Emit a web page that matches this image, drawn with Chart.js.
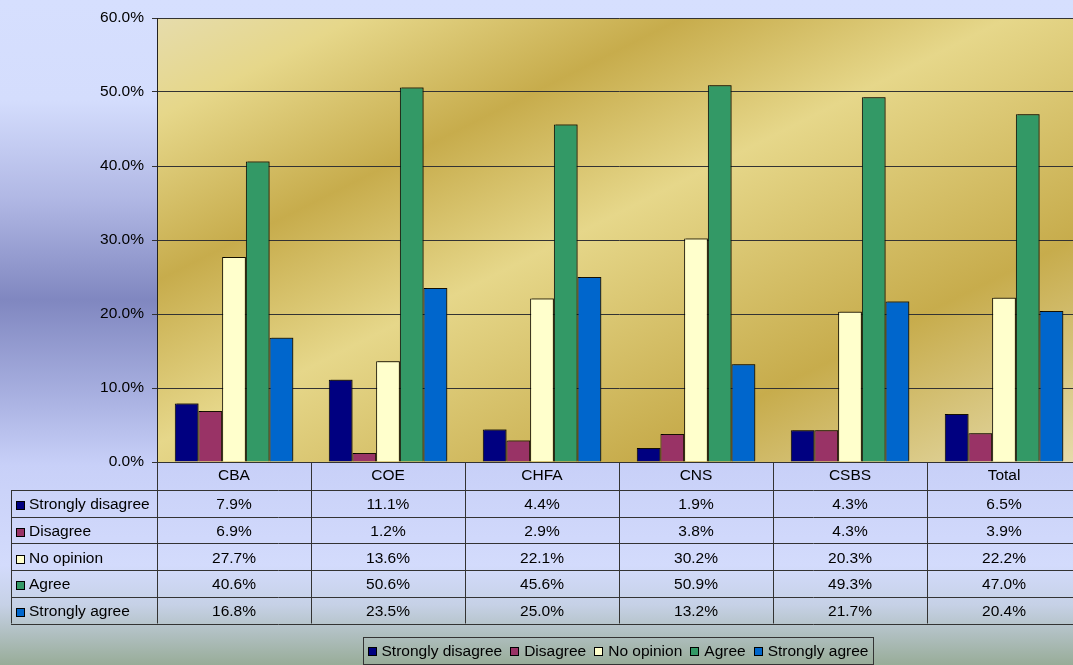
<!DOCTYPE html>
<html>
<head>
<meta charset="utf-8">
<script src="https://cdn.jsdelivr.net/npm/chart.js@4/dist/chart.umd.min.js"></script>
<style>
  html, body { margin: 0; padding: 0; width: 1073px; height: 665px; overflow: hidden; }
  body {
    background: linear-gradient(to bottom,
      #d6dffe 0px, #d4ddfd 100px, #b0b7e4 200px, #8087c0 300px,
      #aab2e2 400px, #c8d0f8 465px, #d3dbfc 565px, #c6d1e6 605px, #98ac98 665px);
  }
  #wrap { width: 1081px; height: 665px; }
  canvas { display: block; }
</style>
</head>
<body>
<div id="wrap"><canvas id="chart" width="1081" height="665"></canvas></div>
<script>
// Survey responses by college (percent of respondents)
const categories = ['CBA', 'COE', 'CHFA', 'CNS', 'CSBS', 'Total'];
const seriesNames = ['Strongly disagree', 'Disagree', 'No opinion', 'Agree', 'Strongly agree'];
const seriesColors = ['#000080', '#993366', '#ffffcc', '#339966', '#0066cc'];

const stronglyDisagree = [7.9, 11.1, 4.4, 1.9, 4.3, 6.5];
const disagree         = [6.9, 1.2, 2.9, 3.8, 4.3, 3.9];
const noOpinion        = [27.7, 13.6, 22.1, 30.2, 20.3, 22.2];
const agree            = [40.6, 50.6, 45.6, 50.9, 49.3, 47.0];
const stronglyAgree    = [16.8, 23.5, 25.0, 13.2, 21.7, 20.4];

const seriesValues = [stronglyDisagree, disagree, noOpinion, agree, stronglyAgree];

const yMin = 0, yMax = 60, yStep = 10;

const FONT = '"Liberation Sans", Arial, sans-serif';
const TEXT_SIZE = 15.5;
const fmt = v => v.toFixed(1) + '%';

// Gold fill behind the bars; bands run along x + 2y = const
const plotFill = {
  id: 'plotFill',
  beforeDraw(chart) {
    const { ctx, chartArea: a } = chart;
    const len = (a.right - a.left) + 2 * (a.bottom - a.top);
    const s = len / 5;
    const g = ctx.createLinearGradient(a.left, a.top, a.left + s, a.top + 2 * s);
    g.addColorStop(0.00, '#e6dcac');
    g.addColorStop(0.11, '#e6d78a');
    g.addColorStop(0.29, '#c7ac4c');
    g.addColorStop(0.47, '#e6d78a');
    g.addColorStop(0.75, '#c7ac4c');
    g.addColorStop(1.00, '#e6dcac');
    ctx.save();
    ctx.fillStyle = g;
    ctx.fillRect(a.left, a.top, a.right - a.left, a.bottom - a.top);
    ctx.restore();
  }
};

// Thin drop shadow on the right side of each bar
const barShadow = {
  id: 'barShadow',
  beforeDatasetsDraw(chart) {
    const ctx = chart.ctx;
    ctx.save();
    ctx.shadowColor = 'rgba(40, 30, 0, 0.55)';
    ctx.shadowOffsetX = 2;
    ctx.shadowOffsetY = -1;
    ctx.shadowBlur = 0;
  },
  afterDatasetsDraw(chart) {
    chart.ctx.restore();
  }
};

// Data table under the plot plus the boxed legend at the bottom
const dataTable = {
  id: 'dataTable',
  afterDraw(chart) {
    const { ctx, chartArea: a } = chart;
    const x = chart.scales.x;
    const n = chart.data.labels.length;
    const colW = x.getPixelForValue(1) - x.getPixelForValue(0);
    const left0 = x.getPixelForValue(0) - colW / 2;
    const headTop = a.bottom;
    const rowTop = 490;
    const rowH = 26.7;
    const tableLeft = 11;
    const tableRight = left0 + colW * n;
    const rows = chart.data.datasets.length;
    const tableBottom = rowTop + rowH * rows;
    const px = v => Math.round(v) + 0.5;
    const textDy = 1.5;

    ctx.save();
    ctx.strokeStyle = '#333333';
    ctx.lineWidth = 1;
    ctx.beginPath();
    // column separators through header and body
    for (let i = 0; i <= n; i++) {
      const cx = px(left0 + colW * i);
      ctx.moveTo(cx, headTop);
      ctx.lineTo(cx, tableBottom);
    }
    // left edge of the row-label column
    ctx.moveTo(px(tableLeft), rowTop);
    ctx.lineTo(px(tableLeft), tableBottom);
    // row separators
    for (let r = 0; r <= rows; r++) {
      const ry = px(rowTop + rowH * r);
      ctx.moveTo(tableLeft, ry);
      ctx.lineTo(tableRight, ry);
    }
    ctx.stroke();

    ctx.font = TEXT_SIZE + 'px ' + FONT;
    ctx.fillStyle = '#000';
    ctx.textBaseline = 'middle';
    ctx.textAlign = 'center';
    chart.data.labels.forEach((lab, i) => {
      ctx.fillText(lab, x.getPixelForValue(i), (headTop + rowTop) / 2);
    });

    chart.data.datasets.forEach((ds, r) => {
      const cy = rowTop + rowH * r + rowH / 2;
      const ky = Math.round(cy) - 2;
      // key square
      ctx.fillStyle = ds.backgroundColor;
      ctx.fillRect(16, ky, 9, 9);
      ctx.strokeStyle = '#000';
      ctx.strokeRect(16.5, ky + 0.5, 8, 8);
      ctx.fillStyle = '#000';
      ctx.textAlign = 'left';
      ctx.fillText(ds.label, 29, cy + textDy);
      ctx.textAlign = 'center';
      ds.data.forEach((v, i) => {
        ctx.fillText(fmt(v), x.getPixelForValue(i), cy + textDy);
      });
    });

    // legend box
    const boxL = 363, boxR = 873, boxT = 637, boxB = 664;
    ctx.strokeStyle = '#333333';
    ctx.strokeRect(boxL + 0.5, boxT + 0.5, boxR - boxL, boxB - boxT);
    const keyW = 9, keyGap = 5, itemGap = 8;
    const widths = chart.data.datasets.map(d => ctx.measureText(d.label).width);
    const total = widths.reduce((s, w) => s + keyW + keyGap + w, 0) + itemGap * (widths.length - 1);
    let lx = (boxL + boxR) / 2 - total / 2;
    const ly = 651;
    ctx.textAlign = 'left';
    chart.data.datasets.forEach((ds, i) => {
      const kx = Math.round(lx);
      ctx.fillStyle = ds.backgroundColor;
      ctx.fillRect(kx, ly - 4, 9, 9);
      ctx.strokeStyle = '#000';
      ctx.strokeRect(kx + 0.5, ly - 3.5, 8, 8);
      ctx.fillStyle = '#000';
      ctx.fillText(ds.label, lx + keyW + keyGap, ly + 1);
      lx += keyW + keyGap + widths[i] + itemGap;
    });
    ctx.restore();
  }
};

new Chart(document.getElementById('chart'), {
  type: 'bar',
  data: {
    labels: categories,
    datasets: seriesNames.map((name, i) => ({
      label: name,
      data: seriesValues[i],
      backgroundColor: seriesColors[i],
      borderColor: '#000000',
      borderWidth: 1,
      borderSkipped: 'bottom',
      categoryPercentage: 5 / 6.5,
      barPercentage: 1
    }))
  },
  options: {
    responsive: false,
    animation: false,
    devicePixelRatio: 1,
    layout: { padding: { top: 18, right: 0, bottom: 203, left: 0 } },
    plugins: {
      legend: { display: false },
      tooltip: { enabled: false }
    },
    scales: {
      x: { display: false },
      y: {
        min: yMin,
        max: yMax,
        ticks: {
          stepSize: yStep,
          padding: 8,
          color: '#000',
          font: { family: FONT, size: TEXT_SIZE },
          callback: v => fmt(v)
        },
        grid: { color: '#333333', lineWidth: 1, tickLength: 5, tickColor: '#333333' },
        border: { display: true, color: '#222222', width: 1 },
        afterFit(scale) { scale.width = 157; }
      }
    }
  },
  plugins: [plotFill, barShadow, dataTable]
});
</script>
</body>
</html>
